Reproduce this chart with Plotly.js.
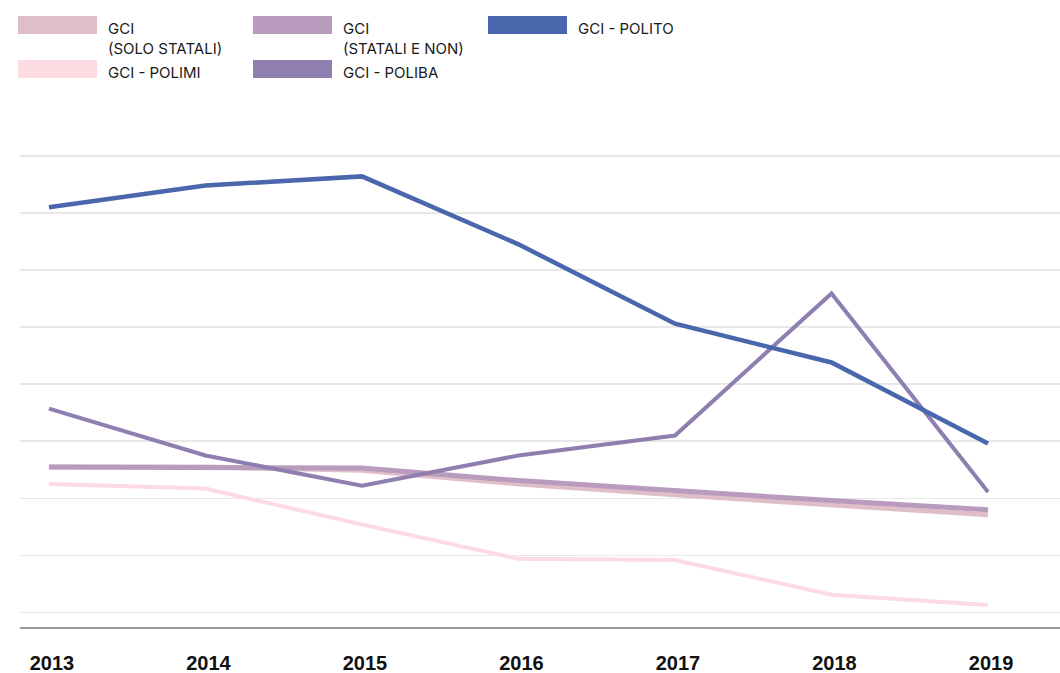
<!DOCTYPE html>
<html>
<head>
<meta charset="utf-8">
<script src="https://cdn.plot.ly/plotly-3.0.1.min.js"></script>
<style>html,body{margin:0;padding:0;background:#fff;}#chart{width:1060px;height:673px;}</style>
</head>
<body>
<div id="chart"></div>
<script>
const years = [2013, 2014, 2015, 2016, 2017, 2018, 2019];
const gciSoloStatali = [2.55, 2.55, 2.49, 2.25, 2.06, 1.89, 1.71];
const gciStataliENon = [2.55, 2.55, 2.53, 2.31, 2.13, 1.96, 1.80];
const gciPolimi = [2.25, 2.17, 1.54, 0.94, 0.92, 0.31, 0.13];
const gciPoliba = [3.57, 2.75, 2.22, 2.75, 3.10, 5.59, 2.11];
const gciPolito = [7.10, 7.48, 7.64, 6.45, 5.06, 4.38, 2.96];
const seriesNames = ["GCI<br>(SOLO STATALI)", "GCI<br>(STATALI E NON)", "GCI - POLITO", "GCI - POLIMI", "GCI - POLIBA"];

const colors = {solo: "#e0bec7", stat: "#b99bbd", polito: "#4a66ad", polimi: "#fddbe3", poliba: "#8f7fb0"};

const W = 1060, H = 673;
const mL = 20, mR = 0, mT = 153, mB = 46;
const px = x => (x - mL) / (W - mL - mR);
const py = y => (H - mB - y) / (H - mT - mB);

function tr(y, color, width) {
  return {x: years, y: y, type: "scatter", mode: "lines", line: {color: color, width: width, shape: "linear"}, hoverinfo: "skip", showlegend: false};
}
const data = [
  tr(gciSoloStatali, colors.solo, 5),
  tr(gciStataliENon, colors.stat, 5),
  tr(gciPolimi, colors.polimi, 4),
  tr(gciPoliba, colors.poliba, 4),
  tr(gciPolito, colors.polito, 4.5)
];

const legendItems = [
  {name: seriesNames[0], color: colors.solo, x: 18, y: 16},
  {name: seriesNames[1], color: colors.stat, x: 253, y: 16},
  {name: seriesNames[2], color: colors.polito, x: 488, y: 16},
  {name: seriesNames[3], color: colors.polimi, x: 18, y: 60},
  {name: seriesNames[4], color: colors.poliba, x: 253, y: 60}
];
const shapes = legendItems.map(it => ({
  type: "rect", xref: "paper", yref: "paper",
  x0: px(it.x), x1: px(it.x + 79), y0: py(it.y), y1: py(it.y + 18),
  fillcolor: it.color, line: {width: 0}
}));
const annotations = legendItems.map(it => ({
  xref: "paper", yref: "paper", x: px(it.x + 88), y: py(it.y + 1),
  xanchor: "left", yanchor: "top", align: "left", showarrow: false,
  text: it.name, font: {family: "Inter, 'Liberation Sans', sans-serif", size: 15, color: "#1a1a1a"}
}));

const layout = {
  width: W, height: H,
  margin: {l: mL, r: mR, t: mT, b: mB, pad: 0},
  paper_bgcolor: "#ffffff", plot_bgcolor: "#ffffff",
  showlegend: false,
  xaxis: {
    range: [2012.815, 2019.46], tickvals: years, ticktext: years.map(String),
    showgrid: false, zeroline: false, showline: true, linecolor: "#9a9a9a", linewidth: 1.5,
    ticks: "", ticklabelstandoff: 17, ticklabelshift: 3,
    tickfont: {family: "'Liberation Sans', Arial, sans-serif", size: 20, color: "#111", weight: "bold"},
    fixedrange: true
  },
  yaxis: {
    range: [-0.255, 8.05], tick0: 0, dtick: 1, showticklabels: false,
    showgrid: true, gridcolor: "#e8e8e8", gridwidth: 1.5, zeroline: false, showline: false,
    fixedrange: true
  },
  shapes: shapes,
  annotations: annotations
};
Plotly.newPlot("chart", data, layout, {displayModeBar: false, staticPlot: true});
</script>
</body>
</html>
